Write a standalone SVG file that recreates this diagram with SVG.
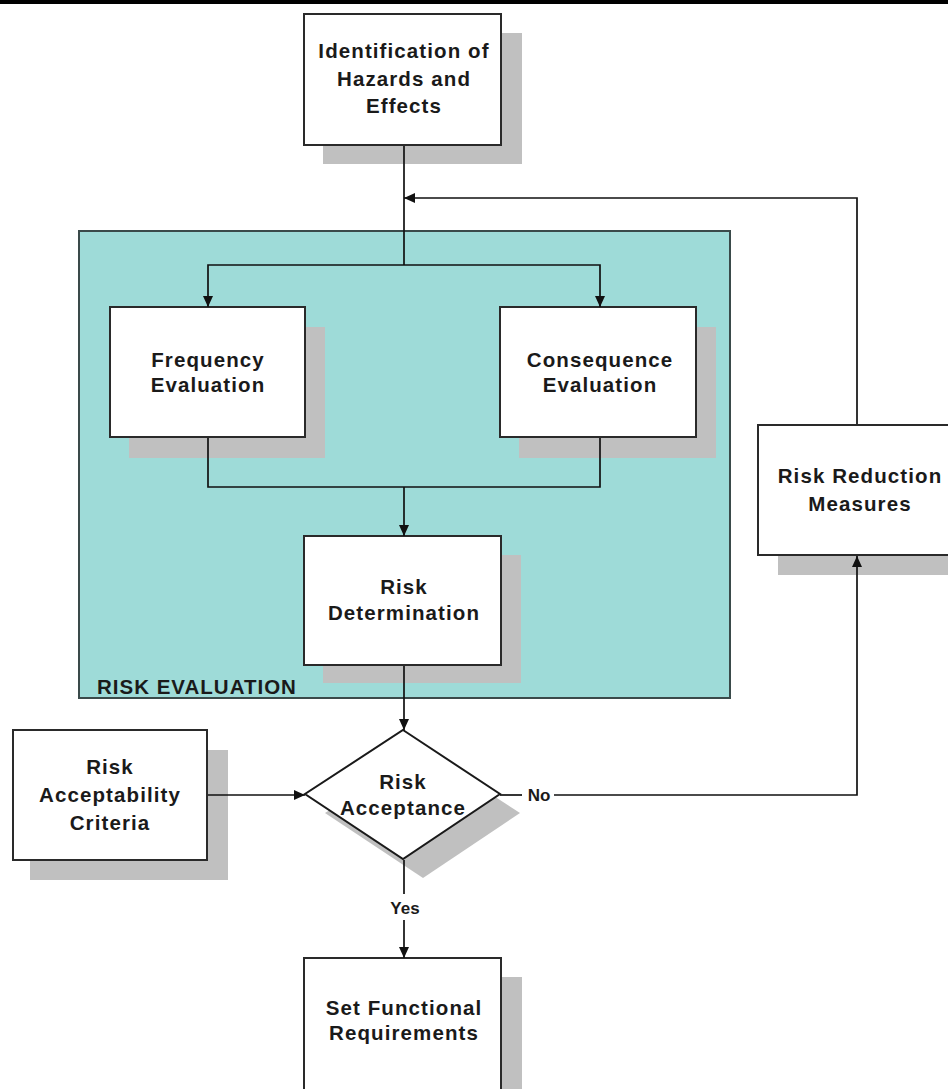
<svg xmlns="http://www.w3.org/2000/svg" width="948" height="1089" viewBox="0 0 948 1089">
<style>
.box{fill:#fff;stroke:#2a2a2a;stroke-width:2}
.sh{fill:#c0c0c0}
.t{font-family:"Liberation Sans",Arial,sans-serif;font-weight:bold;font-size:20.5px;letter-spacing:1.1px;fill:#1a1a1a;text-anchor:middle}
.s{font-family:"Liberation Sans",Arial,sans-serif;font-weight:bold;font-size:17px;fill:#1a1a1a;text-anchor:middle}
.c{fill:none;stroke:#111;stroke-width:1.7}
</style>
<defs>
<marker id="ah" markerUnits="userSpaceOnUse" markerWidth="12" markerHeight="10" refX="11" refY="5" orient="auto">
<path d="M0,0 L11,5 L0,10 Z" fill="#111"/>
</marker>
</defs>
<rect x="0" y="0" width="948" height="1089" fill="#fff"/>
<rect x="0" y="0" width="948" height="4" fill="#000"/>
<g id="risk-evaluation">
<rect x="79" y="231" width="651" height="467" fill="#9edbd8" stroke="#3a4a4a" stroke-width="2"/>
<text x="97" y="694" font-family="Liberation Sans,Arial,sans-serif" font-weight="bold" font-size="20.5" letter-spacing="1" fill="#1a1a1a">RISK EVALUATION</text>
</g>
<g id="identification">
<rect class="sh" x="323" y="33" width="199" height="131"/>
<rect class="box" x="304" y="14" width="197" height="131"/>
<text class="t" x="404" y="58">Identification of</text>
<text class="t" x="404" y="86">Hazards and</text>
<text class="t" x="404" y="113">Effects</text>
</g>
<g id="frequency">
<rect class="sh" x="129" y="327" width="196" height="131"/>
<rect class="box" x="110" y="307" width="195" height="130"/>
<text class="t" x="208" y="367">Frequency</text>
<text class="t" x="208" y="392">Evaluation</text>
</g>
<g id="consequence">
<rect class="sh" x="519" y="327" width="197" height="131"/>
<rect class="box" x="500" y="307" width="196" height="130"/>
<text class="t" x="600" y="367">Consequence</text>
<text class="t" x="600" y="392">Evaluation</text>
</g>
<g id="risk-determination">
<rect class="sh" x="323" y="555" width="198" height="128"/>
<rect class="box" x="304" y="536" width="197" height="129"/>
<text class="t" x="404" y="594">Risk</text>
<text class="t" x="404" y="620">Determination</text>
</g>
<g id="risk-acceptance">
<polygon class="sh" points="423,750 520,813 423,878 325,813"/>
<polygon points="403,730 500,794 403,859 305,794" fill="#fff" stroke="#1a1a1a" stroke-width="2"/>
<text class="t" x="403" y="789">Risk</text>
<text class="t" x="403" y="815">Acceptance</text>
</g>
<g id="risk-acceptability">
<rect class="sh" x="30" y="750" width="198" height="130"/>
<rect class="box" x="13" y="730" width="194" height="130"/>
<text class="t" x="110" y="774">Risk</text>
<text class="t" x="110" y="802">Acceptability</text>
<text class="t" x="110" y="830">Criteria</text>
</g>
<g id="risk-reduction">
<rect class="sh" x="778" y="445" width="180" height="130"/>
<rect class="box" x="758" y="425" width="200" height="130"/>
<text class="t" x="860" y="483">Risk Reduction</text>
<text class="t" x="860" y="511">Measures</text>
</g>
<g id="set-functional">
<rect class="sh" x="323" y="977" width="199" height="130"/>
<rect class="box" x="304" y="958" width="197" height="140"/>
<text class="t" x="404" y="1015">Set Functional</text>
<text class="t" x="404" y="1040">Requirements</text>
</g>
<g id="connectors">
<path class="c" d="M404,146 V265"/>
<path class="c" d="M857,424 V198 H404" marker-end="url(#ah)"/>
<path class="c" d="M404,265 H208 V307" marker-end="url(#ah)"/>
<path class="c" d="M404,265 H600 V307" marker-end="url(#ah)"/>
<path class="c" d="M208,438 V487 H600 V438"/>
<path class="c" d="M404,487 V536" marker-end="url(#ah)"/>
<path class="c" d="M404,666 V730" marker-end="url(#ah)"/>
<path class="c" d="M208,795 H305" marker-end="url(#ah)"/>
<path class="c" d="M500,795 H522"/>
<path class="c" d="M554,795 H857 V556" marker-end="url(#ah)"/>
<path class="c" d="M404,860 V894"/>
<path class="c" d="M404,920 V958" marker-end="url(#ah)"/>
<text class="s" x="539" y="801">No</text>
<text class="s" x="405" y="914">Yes</text>
</g>
</svg>
